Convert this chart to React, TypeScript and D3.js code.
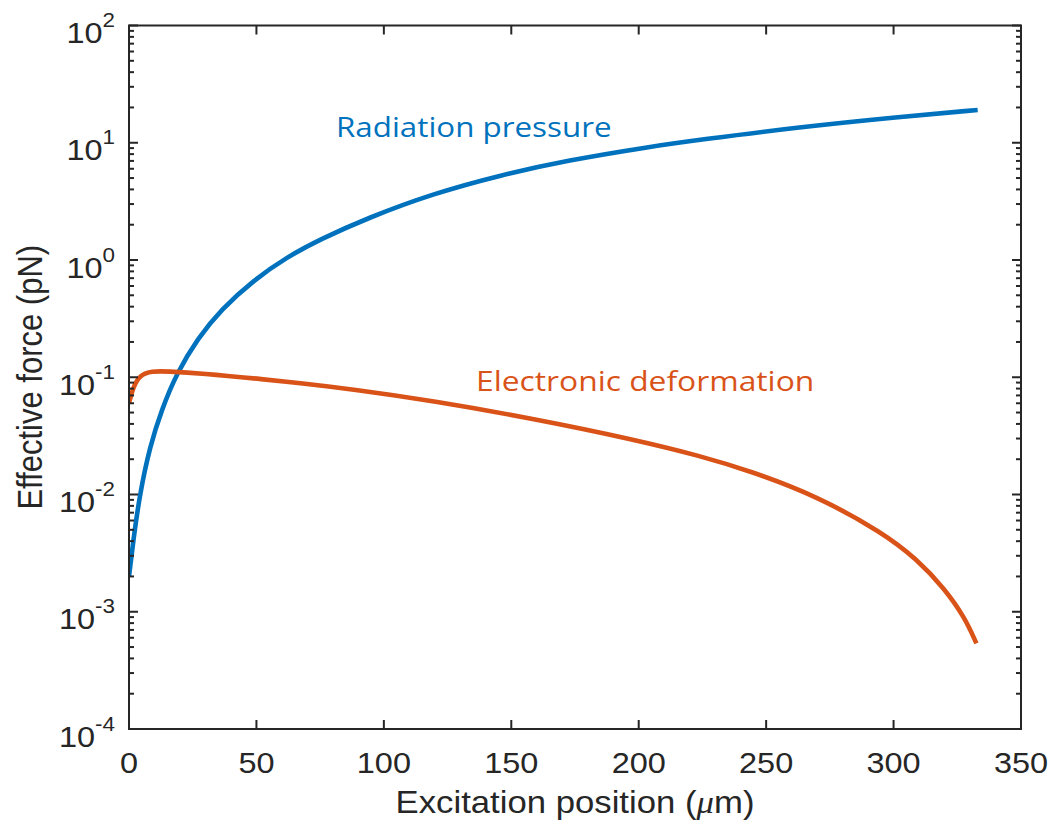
import React from 'react';
import * as d3 from 'd3';

// Radiation pressure series (x in µm, force in pN)
const radX = [0, 1.7, 4.3, 8.2, 12.8, 18.7, 27, 36, 49, 62, 75, 94, 119, 146, 172, 204, 224, 263, 302, 333];
const radY = [0.002, 0.0041, 0.0103, 0.0257, 0.0527, 0.108, 0.215, 0.376, 0.676, 1.06, 1.5, 2.3, 3.67, 5.31, 7.08, 9.23, 10.6, 13.6, 16.6, 19.05];

// Electronic deformation series
const eleX = [0, 1.7, 4.3, 8.9, 15, 28, 54, 67, 87, 119, 159, 198, 224, 244, 270, 296, 309, 320, 328, 332.5];
const eleY = [0.06, 0.0832, 0.1047, 0.113, 0.1122, 0.1084, 0.0955, 0.0891, 0.0794, 0.0631, 0.0442, 0.0295, 0.0214, 0.0158, 0.0097, 0.00468, 0.00282, 0.00158, 0.00089, 0.000537];

const xTicks = [0, 50, 100, 150, 200, 250, 300, 350];
const yDecades = [-4, -3, -2, -1, 0, 1, 2];

const BLUE = '#0072BD';
const ORANGE = '#D95319';
const AXIS = '#262626';
const SX = 1.12;

export default function App() {
  const W = 1057, H = 833;
  const L = 129, R = 1021, T = 25.5, B = 729;
  const x = d3.scaleLinear().domain([0, 350]).range([L, R]);
  const y = d3.scaleLog().domain([1e-4, 1e2]).range([B, T]);
  const line = d3.line<[number, number]>().x(d => x(d[0])).y(d => y(d[1])).curve(d3.curveBasis);
  const radPts = radX.map((v, i) => [v, radY[i]] as [number, number]);
  const elePts = eleX.map((v, i) => [v, eleY[i]] as [number, number]);

  const minor: number[] = [];
  for (let k = -4; k < 2; k++) for (let j = 2; j <= 9; j++) minor.push(j * Math.pow(10, k));

  const tickFont = 'Liberation Sans, Arial, sans-serif';

  return (
    <svg width={W} height={H} style={{ position: 'absolute', left: 0, top: 0, background: '#fff' }}>
      <rect x={0} y={0} width={W} height={H} fill="#fff" />
      <defs>
        <clipPath id="plot"><rect x={L} y={T} width={R - L} height={B - T} /></clipPath>
      </defs>
      {/* curves */}
      <g clipPath="url(#plot)">
        <path d={line(radPts) || ''} fill="none" stroke={BLUE} strokeWidth={4.6} />
        <path d={line(elePts) || ''} fill="none" stroke={ORANGE} strokeWidth={4.6} />
      </g>
      {/* box */}
      <rect x={L} y={T} width={R - L} height={B - T} fill="none" stroke={AXIS} strokeWidth={2} />
      {/* x ticks */}
      {xTicks.map(v => (
        <g key={'xt' + v}>
          <line x1={x(v)} x2={x(v)} y1={B} y2={B - 9} stroke={AXIS} strokeWidth={2} />
          <line x1={x(v)} x2={x(v)} y1={T} y2={T + 9} stroke={AXIS} strokeWidth={2} />
          <text transform={`translate(${x(v)},${773}) scale(${SX},1)`} textAnchor="middle"
            fontFamily={tickFont} fontSize={29} fill={AXIS}>{v}</text>
        </g>
      ))}
      {/* y major ticks */}
      {yDecades.map(k => {
        const ty = y(Math.pow(10, k));
        return (
          <g key={'yt' + k}>
            <line x1={L} x2={L + 9} y1={ty} y2={ty} stroke={AXIS} strokeWidth={2} />
            <line x1={R} x2={R - 9} y1={ty} y2={ty} stroke={AXIS} strokeWidth={2} />
            <text transform={`translate(${115},${ty + 17.5}) scale(${SX},1)`} textAnchor="end"
              fontFamily={tickFont} fill={AXIS}>
              <tspan fontSize={29}>10</tspan>
              <tspan fontSize={20} dy={-16}>{k}</tspan>
            </text>
          </g>
        );
      })}
      {/* y minor ticks */}
      {minor.map((v, i) => (
        <g key={'ym' + i}>
          <line x1={L} x2={L + 5} y1={y(v)} y2={y(v)} stroke={AXIS} strokeWidth={2} />
          <line x1={R} x2={R - 5} y1={y(v)} y2={y(v)} stroke={AXIS} strokeWidth={2} />
        </g>
      ))}
      {/* axis titles */}
      <text transform={`translate(${(L + R) / 2},${813}) scale(${SX},1)`} textAnchor="middle"
        fontFamily={tickFont} fontSize={31} fill={AXIS}>
        Excitation position (<tspan fontFamily="Liberation Serif, Times New Roman, serif" fontStyle="italic">μ</tspan>m)
      </text>
      <text transform={`translate(${42},${(T + B) / 2}) scale(${SX},1) rotate(-90)`} textAnchor="middle"
        fontFamily={tickFont} fontSize={31} fill={AXIS}>
        Effective force (pN)
      </text>
      {/* annotations */}
      <text transform={`translate(${336},${137}) scale(${SX},1)`} fontFamily="Open Sans, sans-serif"
        fontSize={28} fill={BLUE} textLength={246} lengthAdjust="spacingAndGlyphs">Radiation pressure</text>
      <text transform={`translate(${476},${391}) scale(${SX},1)`} fontFamily="Open Sans, sans-serif"
        fontSize={28} fill={ORANGE} textLength={302} lengthAdjust="spacingAndGlyphs">Electronic deformation</text>
    </svg>
  );
}
